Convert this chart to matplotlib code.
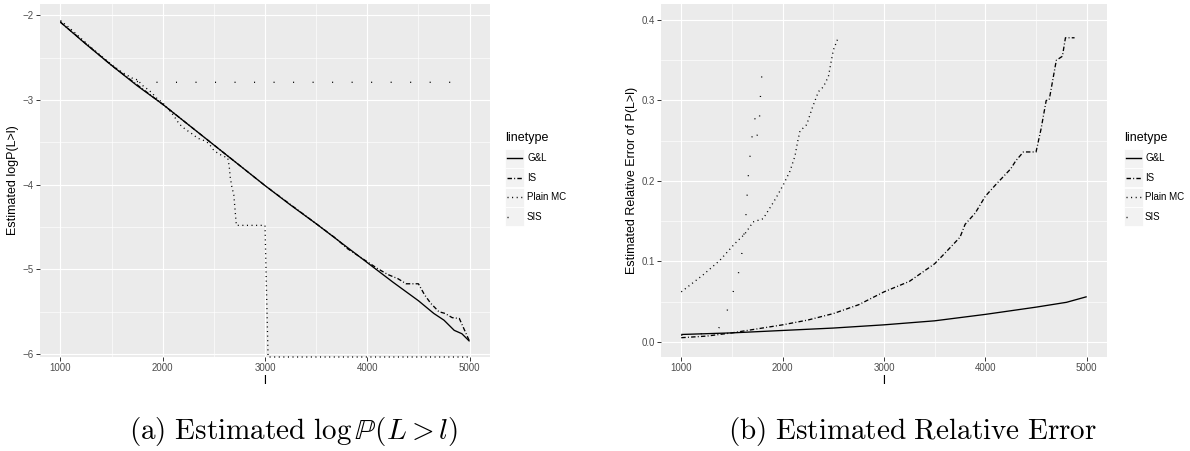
import numpy as np
import matplotlib
matplotlib.use("Agg")
import matplotlib.pyplot as plt
from matplotlib.lines import Line2D
from matplotlib.patches import Rectangle

# ---- data ----
methods = ["G&L", "IS", "Plain MC", "SIS"]

# (a) estimated log P(L > l)
gl_l_a = [1000, 1250, 1500, 1750, 2000, 2250, 2500, 2750, 3000, 3250, 3500, 3750,
          4000, 4250, 4500, 4650, 4750, 4850, 4925, 5000]
gl_v_a = [-2.08, -2.34, -2.59, -2.83, -3.05, -3.29, -3.53, -3.77, -4.01, -4.24, -4.46, -4.69,
          -4.92, -5.15, -5.37, -5.52, -5.60, -5.72, -5.76, -5.85]

is_l_a = [1000, 1500, 2000, 2500, 3000, 3500, 3700, 3800, 3900, 4000, 4100, 4200, 4300,
          4380, 4500, 4560, 4620, 4700, 4760, 4830, 4900, 5000]
is_v_a = [-2.08, -2.59, -3.05, -3.53, -4.01, -4.46, -4.64, -4.75, -4.83, -4.91, -4.99, -5.06,
          -5.11, -5.17, -5.17, -5.30, -5.40, -5.50, -5.52, -5.57, -5.58, -5.85]

mc_l_a = [1000, 1100, 1200, 1300, 1400, 1500, 1600, 1700, 1750, 1810, 1850, 1890, 1950,
          1990, 2050, 2105, 2160, 2195, 2240, 2300, 2340, 2390, 2450, 2490, 2530, 2585,
          2635, 2650, 2660, 2675, 2695, 2720, 3000, 3030, 5000]
mc_v_a = [-2.06, -2.16, -2.27, -2.38, -2.48, -2.58, -2.67, -2.74, -2.76, -2.835, -2.87,
          -2.91, -2.99, -3.02, -3.10, -3.18, -3.28, -3.32, -3.36, -3.41, -3.45, -3.47, -3.51,
          -3.58, -3.62, -3.66, -3.68, -3.78, -3.91, -4.02, -4.12, -4.48, -4.48,
          float("-inf"), float("-inf")]

sis_l_a = [1000, 1200, 1400, 1600, 1750, 1850, 4850]
sis_v_a = [-2.07, -2.28, -2.49, -2.68, -2.78, -2.79, -2.79]

# (b) estimated relative error
gl_l_b = [1000, 1500, 2000, 2500, 3000, 3500, 4000, 4500, 4800, 5000]
gl_v_b = [0.009, 0.011, 0.014, 0.017, 0.021, 0.026, 0.034, 0.043, 0.049, 0.056]

is_l_b = [1000, 1250, 1500, 1750, 2000, 2250, 2500, 2750, 3000, 3250, 3500, 3600, 3750,
          3800, 3900, 4000, 4100, 4250, 4300, 4375, 4500, 4550, 4600, 4630, 4700, 4760,
          4790, 4880]
is_v_b = [0.005, 0.007, 0.011, 0.016, 0.021, 0.027, 0.035, 0.046, 0.062, 0.075, 0.097, 0.110,
          0.130, 0.146, 0.160, 0.181, 0.195, 0.215, 0.225, 0.236, 0.236, 0.265, 0.300, 0.301,
          0.350, 0.355, 0.378, 0.378]

mc_l_b = [1000, 1214, 1379, 1528, 1627, 1709, 1808, 1907, 1940, 2006, 2072, 2122, 2145,
          2171, 2238, 2287, 2353, 2402, 2452, 2478, 2501, 2551]
mc_v_b = [0.062, 0.083, 0.101, 0.122, 0.134, 0.149, 0.153, 0.173, 0.180, 0.195, 0.212, 0.231,
          0.247, 0.262, 0.270, 0.289, 0.311, 0.317, 0.330, 0.348, 0.363, 0.379]

sis_l_b = [1000, 1200, 1363, 1446, 1505, 1561, 1594, 1637, 1660, 1676, 1696, 1726, 1745,
           1769, 1775, 1785, 1798]
sis_v_b = [0.008, 0.010, 0.015, 0.036, 0.059, 0.083, 0.106, 0.155, 0.204, 0.228, 0.253,
           0.278, 0.255, 0.266, 0.290, 0.315, 0.338]

x_ticks = [1000, 2000, 3000, 4000, 5000]
y_ticks_a = [-6, -5, -4, -3, -2]
y_ticks_b = [0.0, 0.1, 0.2, 0.3, 0.4]

plt.rcParams["font.family"] = ["Liberation Sans", "DejaVu Sans"]
plt.rcParams["mathtext.fontset"] = "cm"
plt.rcParams["lines.scale_dashes"] = False

W, H = 1190, 451
fig = plt.figure(figsize=(W / 100, H / 100), dpi=100)

styles = {
    "G&L": "-",
    "IS": (0, (3.2, 1.6, 0.7, 1.6)),
    "Plain MC": (0, (0.75, 2.55)),
    "SIS": (0, (0.75, 13.3)),
}


def px_box(x0, y0, x1, y1):
    return [x0 / W, 1 - y1 / H, (x1 - x0) / W, (y1 - y0) / H]


def style_axes(ax, xlim, ylim, yticks, yminor):
    ax.set_facecolor("#EBEBEB")
    ax.set_xlim(*xlim)
    ax.set_ylim(*ylim)
    for s in ax.spines.values():
        s.set_visible(False)
    ax.set_xticks(x_ticks)
    ax.set_yticks(yticks)
    ax.set_xticks([1500, 2500, 3500, 4500], minor=True)
    ax.set_yticks(yminor, minor=True)
    ax.grid(which="major", color="white", linewidth=0.85)
    ax.grid(which="minor", color="white", linewidth=0.45)
    ax.set_axisbelow(True)
    ax.tick_params(which="major", length=2.6, width=0.7, color="#333333",
                   labelsize=7, labelcolor="#4D4D4D", pad=2)
    ax.tick_params(which="minor", length=0)


def draw_legend(x0, lab_x):
    fig.text(x0 / W, 1 - 138 / H, "linetype", fontsize=9, va="center", ha="left")
    for i, m in enumerate(methods):
        yc = 158 + 19.6 * i
        fig.patches.append(Rectangle((x0 / W, 1 - (yc + 9.5) / H), 18.5 / W, 19 / H,
                                     transform=fig.transFigure, facecolor="#F2F2F2",
                                     edgecolor="white", linewidth=0.6))
        fig.lines.append(Line2D([(x0 + 1.5) / W, (x0 + 17) / W], [1 - yc / H, 1 - yc / H],
                                transform=fig.transFigure, color="black", linewidth=1.0,
                                linestyle=styles[m]))
        fig.text(lab_x / W, 1 - yc / H, m, fontsize=7, va="center", ha="left")


# ---- panel (a) ----
ax1 = fig.add_axes(px_box(40, 4, 490, 357))
ylim_a = (-6.035, -1.865)
style_axes(ax1, (800, 5200), ylim_a, y_ticks_a, [-5.5, -4.5, -3.5, -2.5])
ax1.set_yticklabels(["\u22126", "\u22125", "\u22124", "\u22123", "\u22122"])
series_a = [(gl_l_a, gl_v_a), (is_l_a, is_v_a), (mc_l_a, mc_v_a), (sis_l_a, sis_v_a)]
for m, (xs, ys) in zip(methods, series_a):
    ys = np.clip(np.array(ys, dtype=float), ylim_a[0], None)  # -Inf drawn at panel edge
    ax1.plot(xs, ys, color="black", linewidth=0.95, linestyle=styles[m],
             solid_capstyle="butt", dash_capstyle="butt", clip_on=False)
fig.text(265 / W, 1 - 381 / H, "l", fontsize=9, ha="center", va="center")
fig.text(13.5 / W, 1 - 180.5 / H, "Estimated logP(L>l)", fontsize=9, rotation=90,
         ha="center", va="center")
draw_legend(505, 527)
fig.text(294 / W, 1 - 432 / H, r"$\mathrm{(a)\ Estimated}\ \log\mathbb{P}(L>l)$",
         fontsize=21, ha="center", va="center")

# ---- panel (b) ----
ax2 = fig.add_axes(px_box(661, 4, 1107, 357))
style_axes(ax2, (800, 5200), (-0.019, 0.42), y_ticks_b, [0.05, 0.15, 0.25, 0.35])
ax2.set_yticklabels(["0.0", "0.1", "0.2", "0.3", "0.4"])
series_b = [(gl_l_b, gl_v_b), (is_l_b, is_v_b), (mc_l_b, mc_v_b), (sis_l_b, sis_v_b)]
for m, (xs, ys) in zip(methods, series_b):
    ax2.plot(xs, ys, color="black", linewidth=0.95, linestyle=styles[m],
             solid_capstyle="butt", dash_capstyle="butt")
fig.text(884 / W, 1 - 381 / H, "l", fontsize=9, ha="center", va="center")
fig.text(632 / W, 1 - 180.5 / H, "Estimated Relative Error of P(L>l)", fontsize=9,
         rotation=90, ha="center", va="center")
draw_legend(1124, 1145)
fig.text(913 / W, 1 - 432 / H, r"$\mathrm{(b)\ Estimated\ Relative\ Error}$",
         fontsize=21, ha="center", va="center")

fig.savefig("out.png", dpi=100)
